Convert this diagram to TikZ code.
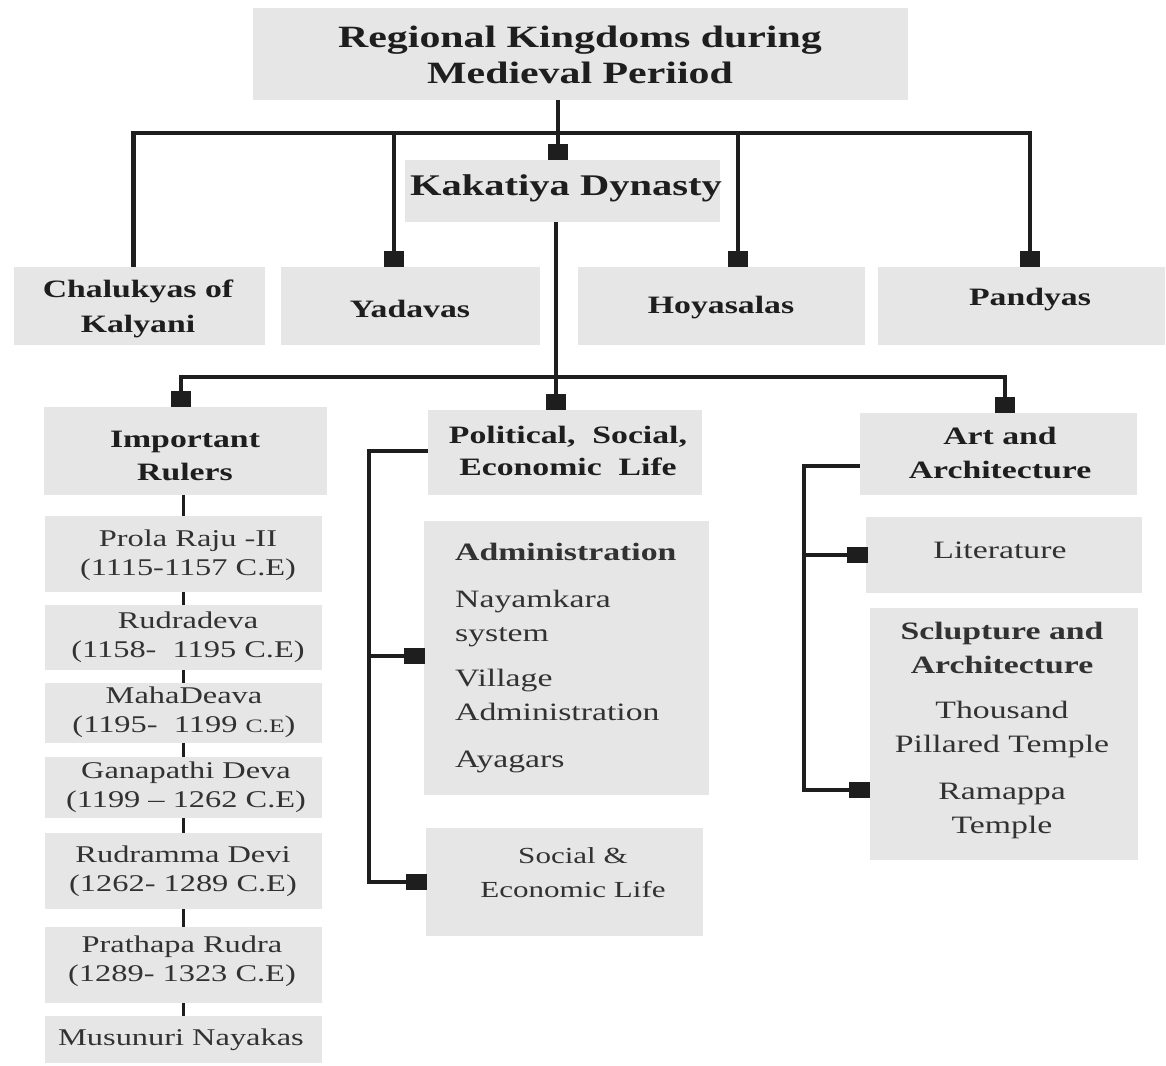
\documentclass[tikz,border=0pt]{standalone}
\usepackage{fontspec}
\setmainfont{Liberation Serif}[FakeStretch=1.35]
\definecolor{boxgray}{RGB}{230,230,230}
\definecolor{lnc}{RGB}{30,30,30}
\definecolor{txd}{RGB}{30,30,30}
\definecolor{txr}{RGB}{50,50,50}
\newcommand\bx[5]{\node[box, minimum width={(#4-#2)*1pt}, minimum height={(#5-#3)*1pt}] (#1) at ({(#2+#4)/2},{(#3+#5)/2}) {};}
\tikzset{
  box/.style={fill=boxgray, draw=none, inner sep=0pt, outer sep=0pt},
  sqv/.style={fill=lnc, draw=none, inner sep=0pt, outer sep=0pt, minimum width=20pt, minimum height=16pt},
  sqh/.style={fill=lnc, draw=none, inner sep=0pt, outer sep=0pt, minimum width=21pt, minimum height=16pt},
  ln/.style={draw=lnc, line width=3.5pt},
  lnt/.style={draw=lnc, line width=4.2pt},
  ttl/.style={text=txd, inner sep=0pt, align=center, font=\bfseries\fontsize{31}{36}\selectfont},
  hd/.style={text=txd, inner sep=0pt, align=center, font=\bfseries\fontsize{25}{34}\selectfont},
  hdp/.style={text=txd, inner sep=0pt, align=center, font=\bfseries\fontsize{25}{32}\selectfont},
  rl/.style={text=txr, inner sep=0pt, align=center, font=\fontsize{24}{29}\selectfont},
  it/.style={text=txr, inner sep=0pt, font=\fontsize{25}{34}\selectfont},
}
\begin{document}
\begin{tikzpicture}[x=1pt,y=-1pt]
\useasboundingbox (0,0) rectangle (1166,1065);
% boxes
\bx{title}{253}{8}{908}{100}
\bx{kak}{405}{160}{720}{222}
\bx{chal}{14}{267}{265}{345}
\bx{yad}{281}{267}{540}{345}
\bx{hoy}{578}{267}{865}{345}
\bx{pan}{878}{267}{1165}{345}
\bx{rul}{44}{407}{327}{495}
\bx{pol}{428}{410}{702}{495}
\bx{art}{860}{413}{1137}{495}
\bx{r1}{45}{516}{322}{592}
\bx{r2}{45}{605}{322}{670}
\bx{r3}{45}{683}{322}{743}
\bx{r4}{45}{757}{322}{818}
\bx{r5}{45}{833}{322}{909}
\bx{r6}{45}{927}{322}{1003}
\bx{r7}{45}{1016}{322}{1063}
\bx{adm}{424}{521}{709}{795}
\bx{soc}{426}{828}{703}{936}
\bx{lit}{866}{517}{1142}{593}
\bx{scu}{870}{608}{1138}{860}
% squares
\node[sqv] (sqY) at (394,259) {};
\node[sqv] (sqK) at (558,152) {};
\node[sqv] (sqH) at (738,259) {};
\node[sqv] (sqPn) at (1030,259) {};
\node[sqv] (sqR) at (181,399) {};
\node[sqv] (sqP) at (556,402) {};
\node[sqv] (sqA) at (1005,405) {};
\node[sqh] (sqAd) at (414,656) {};
\node[sqh] (sqSo) at (416,882) {};
\node[sqh] (sqLi) at (857,555) {};
\node[sqh] (sqSc) at (859,790) {};
% connectors
\coordinate (h1) at (558,133);
\draw[lnt] (title.south -| h1) -- (h1);
\draw[lnt] (h1) -| ([xshift=-6pt]chal.north);
\draw[lnt] (h1) -| (sqY.north);
\draw[lnt] (h1) -- (sqK.north);
\draw[lnt] (h1) -| (sqH.north);
\draw[lnt] (h1) -| (sqPn.north);
\coordinate (h2) at (556,377);
\draw[ln] (kak.south -| h2) -- (h2);
\draw[ln] (h2) -| (sqR.north);
\draw[ln] (h2) -- (sqP.north);
\draw[ln] (h2) -| (sqA.north);
\draw[ln] (rul.south -| r1.north) -- (r1.north);
\draw[ln] (r1.south) -- (r2.north);
\draw[ln] (r2.south) -- (r3.north);
\draw[ln] (r3.south) -- (r4.north);
\draw[ln] (r4.south) -- (r5.north);
\draw[ln] (r5.south) -- (r6.north);
\draw[ln] (r6.south) -- (r7.north);
\coordinate (pb) at (369,451);
\draw[ln] (pol.west |- pb) -- (pb) |- (sqSo.west);
\draw[ln] (pb |- sqAd.west) -- (sqAd.west);
\coordinate (ab) at (804,466);
\draw[ln] (art.west |- ab) -- (ab) |- (sqSc.west);
\draw[ln] (ab |- sqLi.west) -- (sqLi.west);
% texts
\node[ttl] (titlet) at (580,55) {Regional Kingdoms during\\Medieval Periiod};
\node[ttl, font=\bfseries\fontsize{30}{36}\selectfont] (kakt) at (566,188) {Kakatiya Dynasty};
\node[hd, font=\bfseries\fontsize{25}{35}\selectfont] (chalt) at (138,309) {Chalukyas of\\Kalyani};
\node[hd] (yadt) at (410,309) {Yadavas};
\node[hd] (hoyt) at (721,308) {Hoyasalas};
\node[hd] (pant) at (1030,300) {Pandyas};
\node[hd, font=\bfseries\fontsize{25}{33}\selectfont] (rult) at (185,456) {Important\\Rulers};
\node[hdp] (polt) at (568,451) {Political,\ \ Social,\\Economic\ \ Life};
\node[hd] (artt) at (1000,453) {Art and\\Architecture};
\node[rl] (r1t) at (188,555) {Prola Raju -II\\(1115-1157 C.E)};
\node[rl] (r2t) at (188,637) {Rudradeva\\(1158-\ \ 1195 C.E)};
\node[rl] (r3t) at (184,712) {MahaDeava\\(1195-\ \ 1199 {\fontsize{19}{29}\selectfont C.E})};
\node[rl] (r4t) at (186,787) {Ganapathi Deva\\(1199 -- 1262 C.E)};
\node[rl] (r5t) at (183,871) {Rudramma Devi\\(1262-\ 1289 C.E)};
\node[rl] (r6t) at (182,961) {Prathapa Rudra\\(1289-\ 1323 C.E)};
\node[rl] (r7t) at (181,1040) {Musunuri Nayakas};
\node[it, anchor=north west, align=left] (admt) at (455,543) {\textbf{Administration}\\[13pt]Nayamkara\\system\\[11pt]Village\\Administration\\[13pt]Ayagars};
\node[rl, font=\fontsize{23}{34}\selectfont] (soct) at (573,873) {Social \&\\Economic Life};
\node[it] (litt) at (1000,550) {Literature};
\node[it, anchor=north, align=center] (scut) at (1002,622) {\textbf{Sclupture and}\\\textbf{Architecture}\\[11pt]Thousand\\Pillared Temple\\[13pt]Ramappa\\Temple};
\end{tikzpicture}
\end{document}
